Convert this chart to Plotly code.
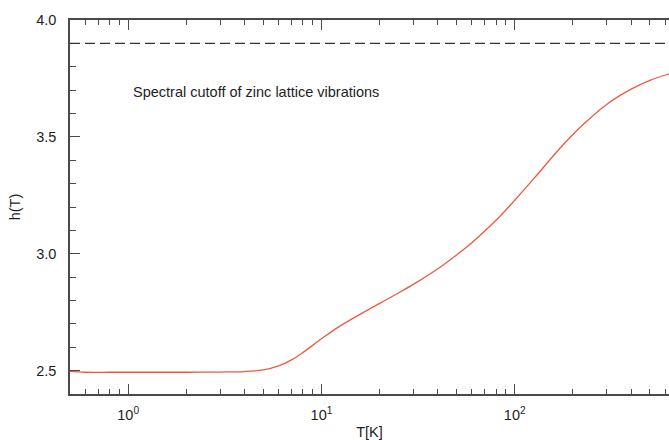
import numpy as np
import plotly.graph_objects as go

# Temperature grid [K] and effective exponent h(T)
temperature = [0.5, 0.6, 0.8, 1.0, 1.5, 2.0, 3.0, 4.0, 5.0, 6.0, 7.0, 8.0,
               10.0, 12.0, 15.0, 20.0, 25.0, 30.0, 40.0, 50.0, 60.0, 80.0,
               100.0, 130.0, 170.0, 220.0, 300.0, 400.0, 500.0, 630.0]
h_values = [2.497, 2.493, 2.493, 2.493, 2.493, 2.493, 2.494, 2.496, 2.503,
            2.520, 2.546, 2.577, 2.636, 2.682, 2.730, 2.788, 2.832, 2.870,
            2.936, 2.995, 3.047, 3.143, 3.229, 3.336, 3.448, 3.544, 3.640,
            3.704, 3.742, 3.770]

cutoff_level = 3.9
cutoff_label = "Spectral cutoff of zinc lattice vibrations"

major_x = [1, 10, 100]
major_x_text = ["10<sup>0</sup>", "10<sup>1</sup>", "10<sup>2</sup>"]
minor_x = [m * 10.0 ** e for e in (-1, 0, 1, 2) for m in range(2, 10)]
minor_x = [v for v in minor_x if 0.5 <= v <= 700 and v not in major_x]

FONT = "Liberation Sans, Arial, sans-serif"
AXIS = "#4a4a4a"
TEXT = "#1e1e1e"

fig = go.Figure()
fig.add_trace(go.Scatter(
    x=temperature, y=h_values, mode="lines",
    line=dict(color="#ec5a3e", width=1.3, shape="spline", smoothing=1.0),
    showlegend=False, hoverinfo="skip",
))

fig.add_hline(y=cutoff_level, line=dict(color="#333333", width=1.2, dash="10px,5px"))

fig.add_annotation(
    x=np.log10(1.036), y=3.693, xref="x", yref="y",
    text=cutoff_label, showarrow=False, xanchor="left", yanchor="middle",
    font=dict(family=FONT, size=14.5, color=TEXT),
)

fig.update_layout(
    width=669, height=440,
    margin=dict(l=70, r=0, t=20, b=46),
    paper_bgcolor="white", plot_bgcolor="white",
    font=dict(family=FONT, size=14.5, color=TEXT),
    xaxis=dict(
        type="log",
        range=[np.log10(0.5), np.log10(628)],
        showgrid=False, zeroline=False,
        showline=True, linecolor=AXIS, linewidth=1.5,
        mirror="ticks",
        ticks="inside", ticklen=10, tickwidth=1.2, tickcolor=AXIS,
        tickmode="array", tickvals=major_x, ticktext=major_x_text,
        ticklabelstandoff=7,
        minor=dict(ticks="inside", ticklen=5, tickwidth=1.1, tickcolor=AXIS,
                   tickmode="array", tickvals=minor_x, showgrid=False),
        title=dict(text="T[K]", standoff=5,
                   font=dict(family=FONT, size=14.5, color=TEXT)),
    ),
    yaxis=dict(
        range=[2.4, 4.0],
        showgrid=False, zeroline=False,
        showline=True, linecolor=AXIS, linewidth=1.5,
        ticks="inside", ticklen=10, tickwidth=1.2, tickcolor=AXIS,
        tick0=2.5, dtick=0.5, tickformat=".1f",
        ticklabelstandoff=9,
        minor=dict(ticks="inside", ticklen=6, tickwidth=1.1, tickcolor=AXIS,
                   dtick=0.1, showgrid=False),
        title=dict(text="h(T)", standoff=12,
                   font=dict(family=FONT, size=14.5, color=TEXT)),
    ),
)

fig.write_html("out.html")
